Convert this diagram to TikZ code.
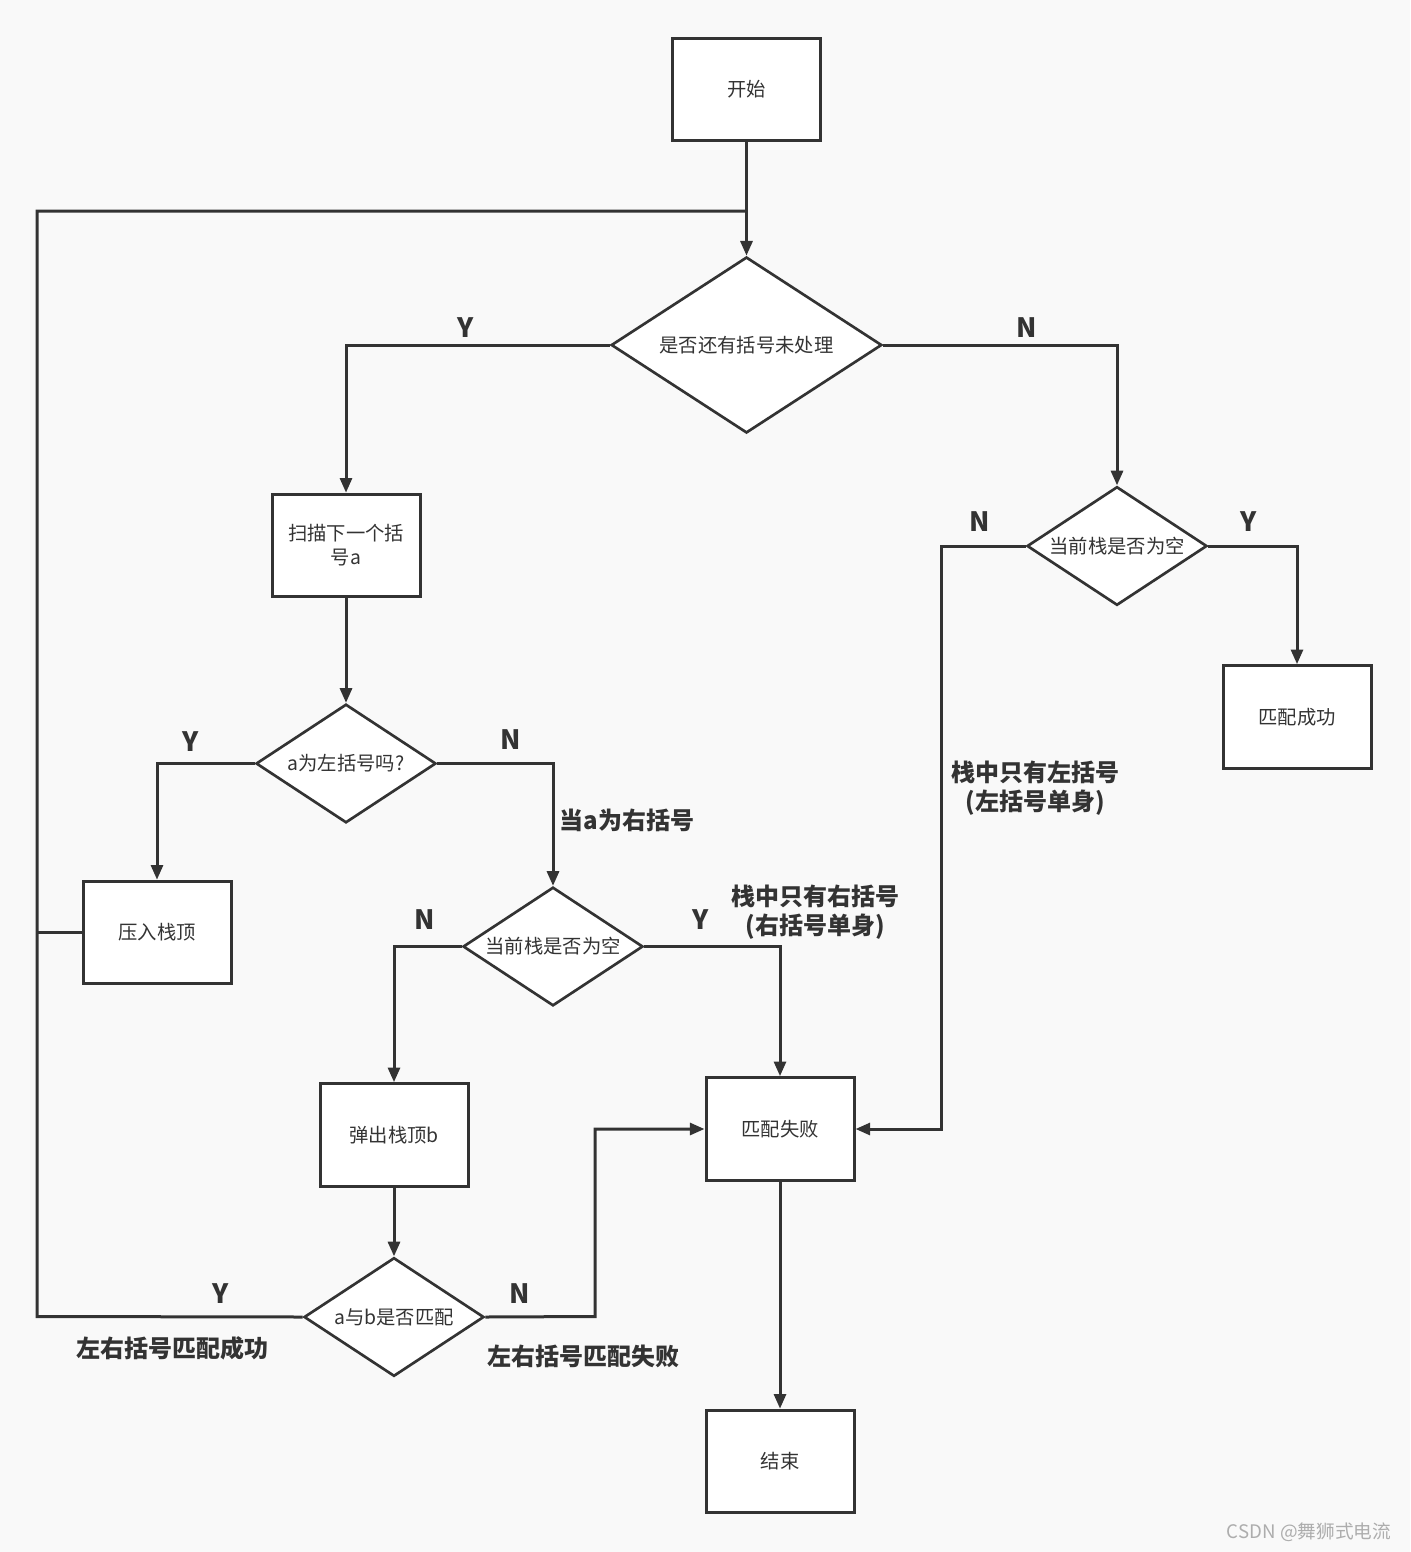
\documentclass[tikz,border=0pt]{standalone}
\usepackage{fontspec}
\setmainfont{Noto Sans CJK SC}
\usetikzlibrary{shapes.geometric,arrows.meta}
\definecolor{ln}{HTML}{333333}
\definecolor{bg}{HTML}{F9F9F9}
\begin{document}
\begin{tikzpicture}[x=0.75pt,y=-0.75pt,
  every node/.style={text=ln},
  box/.style={draw=ln,fill=white,line width=2.25pt,minimum width=111pt,minimum height=77pt,inner sep=0pt,font=\fontsize{14.5}{18}\selectfont,align=center},
  bigdia/.style={draw=ln,fill=white,line width=2pt,diamond,aspect=1.54,minimum width=203pt,minimum height=132pt,inner sep=0pt,font=\fontsize{14.5}{18}\selectfont},
  dia/.style={draw=ln,fill=white,line width=2pt,diamond,aspect=1.52,minimum width=135pt,minimum height=89pt,inner sep=0pt,font=\fontsize{14.5}{18}\selectfont},
  conn/.style={draw=ln,line width=2.25pt},
  arr/.style={conn,-{Triangle[length=11pt,width=9pt]}},
  yn/.style={font=\fontsize{20}{24}\selectfont\bfseries},
  lbl/.style={font=\fontsize{18}{22}\selectfont\bfseries,align=center}
]
\fill[bg] (0,0) rectangle (1410,1552);
\useasboundingbox (0,0) rectangle (1410,1552);

\node[box] (start) at (746.5,89.5) {开始};
\node[bigdia] (d1) at (746.5,345) {是否还有括号未处理};
\node[box] (scan) at (346,545.5) {扫描下一个括\\号a};
\node[dia] (dleft) at (346,763.5) {a为左括号吗?};
\node[box] (push) at (157,932.5) {压入栈顶};
\node[dia] (dempty) at (553,946.5) {当前栈是否为空};
\node[box] (pop) at (394,1135) {弹出栈顶b};
\node[dia] (dmatch) at (394,1317) {a与b是否匹配};
\node[box] (fail) at (780,1129) {匹配失败};
\node[box] (end) at (780,1461.5) {结束};
\node[dia] (dempty2) at (1117,546) {当前栈是否为空};
\node[box] (succ) at (1297,717) {匹配成功};

\coordinate (lt) at (37,211);
\coordinate (lb) at (37,1316.5);
\coordinate (jn) at (746.5,211);
\coordinate (rj) at (595,1316.5);
\coordinate (nj) at (941,546);

\draw[arr] (start) -- (d1);
\draw[conn] (dmatch.west) -- (lb) -- (lt) -- (jn);
\draw[conn] (push.west) -- (push.west -| lb);
\draw[arr] (d1.west) -| (scan.north);
\draw[arr] (d1.east) -| (dempty2.north);
\draw[arr] (scan) -- (dleft);
\draw[arr] (dleft.west) -| (push.north);
\draw[arr] (dleft.east) -| (dempty.north);
\draw[arr] (dempty.west) -| (pop.north);
\draw[arr] (dempty.east) -| (fail.north);
\draw[arr] (pop) -- (dmatch);
\draw[arr] (dmatch.east) -- (rj) |- (fail.west);
\draw[arr] (fail) -- (end);
\draw[arr] (dempty2.west) -- (nj) |- (fail.east);
\draw[arr] (dempty2.east) -| (succ.north);

\node[yn] at (466,328) {Y};
\node[yn] at (1027,328) {N};
\node[yn] at (191,742) {Y};
\node[yn] at (511,740) {N};
\node[yn] at (425,920) {N};
\node[yn] at (701,920) {Y};
\node[yn] at (221,1294) {Y};
\node[yn] at (520,1294) {N};
\node[yn] at (980,522) {N};
\node[yn] at (1249,522) {Y};

\node[lbl,anchor=west] at (555,820) {当a为右括号};
\node[lbl] at (815,912) {栈中只有右括号\\(右括号单身)};
\node[lbl] at (1035,788) {栈中只有左括号\\(左括号单身)};
\node[lbl] at (172,1348) {左右括号匹配成功};
\node[lbl] at (583,1356) {左右括号匹配失败};

\node[text=black!32,font=\fontsize{14}{17}\selectfont] at (1309,1532) {CSDN @舞狮式电流};
\end{tikzpicture}
\end{document}
